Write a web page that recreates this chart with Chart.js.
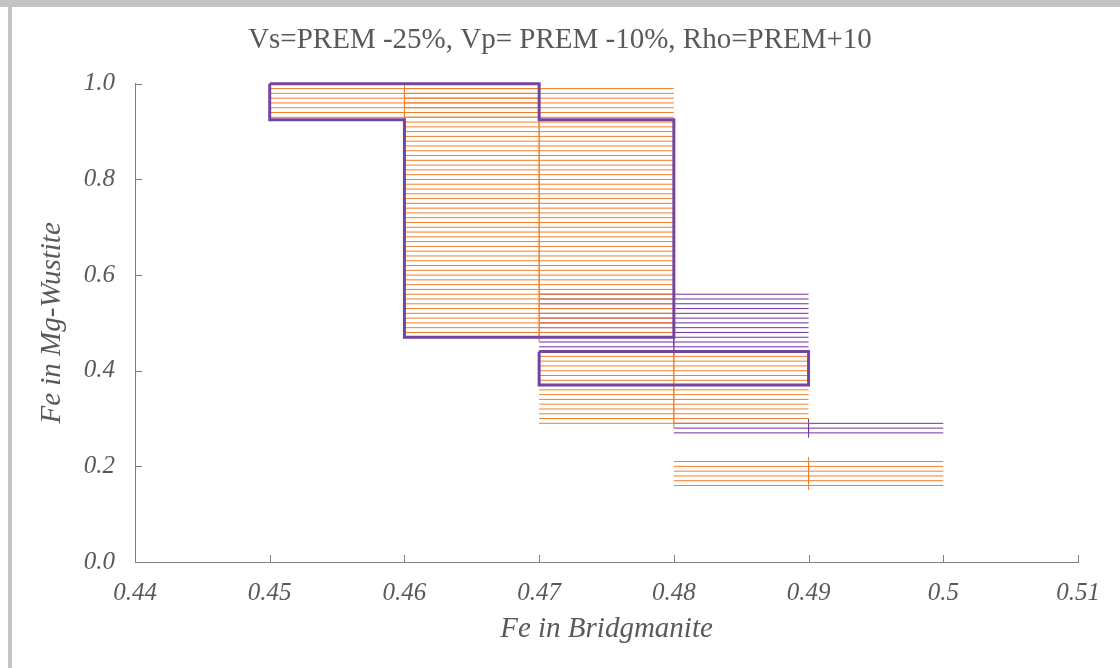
<!DOCTYPE html>
<html>
<head>
<meta charset="utf-8">
<title>Fe partitioning</title>
<script src="https://cdn.jsdelivr.net/npm/chart.js@4.4.1/dist/chart.umd.min.js"></script>
<style>
  html, body { margin: 0; padding: 0; background: #fff; }
  #wrap { width: 1120px; height: 668px; }
</style>
</head>
<body>
<div id="wrap"><canvas id="chart" width="1120" height="668"></canvas></div>
<script>
// Fe in bridgmanite (x) vs Fe in Mg-wustite (y), each point drawn with +/- error bars
const X_TICK_MIN = 0.44;
const X_TICK_MAX = 0.51;
const Y_TICK_MIN = 0;
const Y_TICK_MAX = 1;

const xErr = 0.01;
const yErr = 0.01;

// orange series: bridgmanite Fe and the Mg-wustite values found at each
const orangeX = [0.46, 0.47, 0.48, 0.49];
const orangeY = [
  [0.93, 0.94, 0.95, 0.96, 0.97, 0.98, 0.99],
  [0.47, 0.48, 0.49, 0.50, 0.51, 0.52, 0.53, 0.54, 0.55, 0.56, 0.57, 0.58, 0.59,
   0.60, 0.61, 0.62, 0.63, 0.64, 0.65, 0.66, 0.67, 0.68, 0.69, 0.70, 0.71, 0.72,
   0.73, 0.74, 0.75, 0.76, 0.77, 0.78, 0.79, 0.80, 0.81, 0.82, 0.83, 0.84, 0.85,
   0.86, 0.87, 0.88, 0.89, 0.90, 0.91, 0.92, 0.93, 0.94, 0.95, 0.96, 0.97, 0.98, 0.99],
  [0.29, 0.30, 0.31, 0.32, 0.33, 0.34, 0.35, 0.36, 0.37, 0.38, 0.39, 0.40, 0.41,
   0.42, 0.43, 0.44],
  [0.16, 0.17, 0.18, 0.19, 0.20, 0.21]
];

// purple series
const purpleX = [0.48, 0.49];
const purpleY = [
  [0.44, 0.45, 0.46, 0.47, 0.48, 0.49, 0.50, 0.51, 0.52, 0.53, 0.54, 0.55, 0.56],
  [0.27, 0.28, 0.29]
];

// outlined regions (null breaks the line between the two outlines)
const outlineX = [0.45, 0.47, 0.47, 0.48, 0.48, 0.46, 0.46, 0.45, 0.45, null,
                  0.47, 0.49, 0.49, 0.47, 0.47];
const outlineY = [1.0, 1.0, 0.925, 0.925, 0.47, 0.47, 0.925, 0.925, 1.0, null,
                  0.44, 0.44, 0.37, 0.37, 0.44];

const ORANGE = '#f07f2a';
const PURPLE = '#7030a0';
const OUTLINE = '#7544a0';
const TEXT = '#595959';
const AXIS = '#808080';

// turn centre points into error bar segments, gaps between each
function errorBarSegments(xs, ys) {
  const pts = [];
  xs.forEach((cx, i) => {
    ys[i].forEach(y => {
      pts.push({ x: cx - xErr, y: y }, { x: cx + xErr, y: y }, { x: cx, y: null });
    });
    ys[i].forEach(y => {
      pts.push({ x: cx, y: y - yErr }, { x: cx, y: y + yErr }, { x: cx, y: null });
    });
  });
  return pts;
}

const outlinePts = outlineX.map((x, i) => ({ x: x === null ? 0.45 : x, y: outlineY[i] }));

// light grey frame at top / left of the picture
const framePlugin = {
  id: 'frame',
  beforeDraw(chart) {
    const ctx = chart.ctx;
    ctx.save();
    ctx.fillStyle = '#c4c4c4';
    ctx.fillRect(0, 0, chart.width, 7);
    ctx.fillRect(8, 0, 4, chart.height);
    ctx.restore();
  }
};

// tick marks pointing into the plot
const innerTicks = {
  id: 'innerTicks',
  afterDraw(chart) {
    const { ctx, scales: { x, y } } = chart;
    ctx.save();
    ctx.strokeStyle = AXIS;
    ctx.lineWidth = 1;
    ctx.beginPath();
    x.ticks.forEach(t => {
      const px = Math.round(x.getPixelForValue(t.value)) + 0.5;
      ctx.moveTo(px, y.bottom);
      ctx.lineTo(px, y.bottom - 7);
    });
    y.ticks.forEach(t => {
      const py = Math.round(y.getPixelForValue(t.value)) + 0.5;
      ctx.moveTo(x.left, py);
      ctx.lineTo(x.left + 7, py);
    });
    ctx.stroke();
    ctx.restore();
  }
};

const tickFont = { family: '"Liberation Serif", serif', size: 25, style: 'italic' };
const titleFont = { family: '"Liberation Serif", serif', size: 29, style: 'italic' };

new Chart(document.getElementById('chart'), {
  type: 'scatter',
  data: {
    datasets: [
      {
        label: 'outline',
        data: outlinePts,
        showLine: true,
        spanGaps: false,
        clip: false,
        borderColor: OUTLINE,
        borderWidth: 3,
        borderJoinStyle: 'miter',
        pointRadius: 0,
        order: 0
      },
      {
        label: 'orange',
        data: errorBarSegments(orangeX, orangeY),
        showLine: true,
        spanGaps: false,
        borderColor: ORANGE,
        borderWidth: 1,
        pointRadius: 0,
        order: 1
      },
      {
        label: 'purple',
        data: errorBarSegments(purpleX, purpleY),
        showLine: true,
        spanGaps: false,
        borderColor: PURPLE,
        borderWidth: 1,
        pointRadius: 0,
        order: 2
      }
    ]
  },
  options: {
    responsive: false,
    animation: false,
    layout: { padding: 0 },
    plugins: {
      legend: { display: false },
      tooltip: { enabled: false },
      title: {
        display: true,
        text: 'Vs=PREM -25%, Vp= PREM -10%, Rho=PREM+10',
        color: TEXT,
        font: { family: '"Liberation Serif", serif', size: 29, weight: 'normal' },
        padding: { top: 23, bottom: 26 }
      }
    },
    scales: {
      x: {
        type: 'linear',
        min: X_TICK_MIN,
        max: X_TICK_MAX,
        afterFit: s => { s.height = 106; },
        grid: { display: false, drawTicks: false },
        border: { display: true, color: AXIS, width: 1 },
        ticks: {
          stepSize: 0.01,
          padding: 16,
          color: TEXT,
          font: tickFont,
          callback: v => String(Number(v.toFixed(2)))
        },
        title: {
          display: true,
          text: 'Fe in Bridgmanite',
          color: TEXT,
          font: titleFont,
          padding: { top: 0, bottom: 21 }
        }
      },
      y: {
        type: 'linear',
        min: Y_TICK_MIN,
        max: Y_TICK_MAX,
        afterFit: s => { s.width = 135; },
        grid: { display: false, drawTicks: false },
        border: { display: true, color: AXIS, width: 1 },
        ticks: {
          stepSize: 0.2,
          padding: 20,
          color: TEXT,
          font: tickFont,
          callback: v => v.toFixed(1)
        },
        title: {
          display: true,
          text: 'Fe in Mg-Wustite',
          color: TEXT,
          font: titleFont,
          padding: { top: 35, bottom: 0 }
        }
      },
      // empty right-hand strip so the plot ends where the reference does
      yRight: {
        type: 'linear',
        position: 'right',
        min: Y_TICK_MIN,
        max: Y_TICK_MAX,
        afterFit: s => { s.width = 42; },
        grid: { display: false, drawTicks: false },
        border: { display: false },
        ticks: { display: false }
      }
    }
  },
  plugins: [framePlugin, innerTicks]
});
</script>
</body>
</html>
